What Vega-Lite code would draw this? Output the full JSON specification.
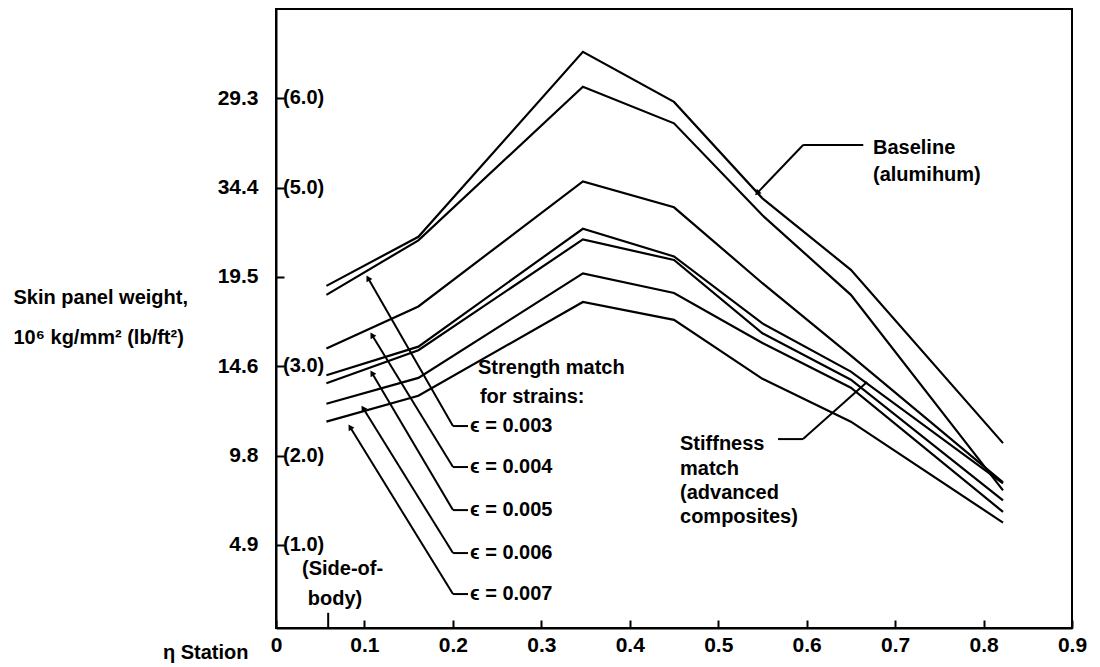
{
  "$schema": "https://vega.github.io/schema/vega-lite/v6.json",
  "width": 796,
  "height": 619,
  "autosize": "none",
  "padding": {"left": 276, "top": 9, "right": 28, "bottom": 39},
  "background": "white",
  "config": {
    "view": {"stroke": "black", "strokeWidth": 2},
    "font": "Liberation Sans",
    "text": {"font": "Liberation Sans", "fontSize": 20, "fontWeight": "bold", "color": "black"},
    "axis": {
      "grid": false,
      "domainColor": "black",
      "domainWidth": 2,
      "tickColor": "black",
      "tickWidth": 2,
      "labelColor": "black",
      "titleColor": "black",
      "labelFont": "Liberation Sans",
      "titleFont": "Liberation Sans",
      "labelFontSize": 21,
      "labelFontWeight": "bold",
      "titleFontSize": 20,
      "titleFontWeight": "bold"
    }
  },
  "datasets": {
    "curves": [
      {"s": "Baseline (aluminum)", "x": 0.057, "y": 3.90}, {"s": "Baseline (aluminum)", "x": 0.161, "y": 4.45}, {"s": "Baseline (aluminum)", "x": 0.347, "y": 6.52}, {"s": "Baseline (aluminum)", "x": 0.45, "y": 5.96}, {"s": "Baseline (aluminum)", "x": 0.55, "y": 4.88}, {"s": "Baseline (aluminum)", "x": 0.65, "y": 4.08}, {"s": "Baseline (aluminum)", "x": 0.822, "y": 2.14},
      {"s": "ε = 0.003", "x": 0.057, "y": 3.80}, {"s": "ε = 0.003", "x": 0.161, "y": 4.41}, {"s": "ε = 0.003", "x": 0.347, "y": 6.13}, {"s": "ε = 0.003", "x": 0.45, "y": 5.72}, {"s": "ε = 0.003", "x": 0.55, "y": 4.69}, {"s": "ε = 0.003", "x": 0.65, "y": 3.80}, {"s": "ε = 0.003", "x": 0.822, "y": 1.61},
      {"s": "ε = 0.004", "x": 0.057, "y": 3.20}, {"s": "ε = 0.004", "x": 0.161, "y": 3.67}, {"s": "ε = 0.004", "x": 0.347, "y": 5.07}, {"s": "ε = 0.004", "x": 0.45, "y": 4.78}, {"s": "ε = 0.004", "x": 0.55, "y": 3.93}, {"s": "ε = 0.004", "x": 0.65, "y": 3.12}, {"s": "ε = 0.004", "x": 0.822, "y": 1.70},
      {"s": "Stiffness match", "x": 0.057, "y": 2.90}, {"s": "Stiffness match", "x": 0.161, "y": 3.22}, {"s": "Stiffness match", "x": 0.347, "y": 4.54}, {"s": "Stiffness match", "x": 0.45, "y": 4.23}, {"s": "Stiffness match", "x": 0.55, "y": 3.48}, {"s": "Stiffness match", "x": 0.65, "y": 2.94}, {"s": "Stiffness match", "x": 0.822, "y": 1.69},
      {"s": "ε = 0.005", "x": 0.057, "y": 2.81}, {"s": "ε = 0.005", "x": 0.161, "y": 3.18}, {"s": "ε = 0.005", "x": 0.347, "y": 4.42}, {"s": "ε = 0.005", "x": 0.45, "y": 4.19}, {"s": "ε = 0.005", "x": 0.55, "y": 3.37}, {"s": "ε = 0.005", "x": 0.65, "y": 2.85}, {"s": "ε = 0.005", "x": 0.822, "y": 1.50},
      {"s": "ε = 0.006", "x": 0.057, "y": 2.58}, {"s": "ε = 0.006", "x": 0.161, "y": 2.87}, {"s": "ε = 0.006", "x": 0.347, "y": 4.04}, {"s": "ε = 0.006", "x": 0.45, "y": 3.82}, {"s": "ε = 0.006", "x": 0.55, "y": 3.26}, {"s": "ε = 0.006", "x": 0.65, "y": 2.76}, {"s": "ε = 0.006", "x": 0.822, "y": 1.37},
      {"s": "ε = 0.007", "x": 0.057, "y": 2.38}, {"s": "ε = 0.007", "x": 0.161, "y": 2.67}, {"s": "ε = 0.007", "x": 0.347, "y": 3.72}, {"s": "ε = 0.007", "x": 0.45, "y": 3.52}, {"s": "ε = 0.007", "x": 0.55, "y": 2.86}, {"s": "ε = 0.007", "x": 0.65, "y": 2.38}, {"s": "ε = 0.007", "x": 0.822, "y": 1.25}
    ],
    "leaders": [
      {"x": 0.664, "y": 5.477, "x2": 0.596, "y2": 5.477},
      {"x": 0.596, "y": 5.477, "x2": 0.544, "y2": 4.939},
      {"x": 0.2171, "y": 2.331, "x2": 0.2001, "y2": 2.331},
      {"x": 0.2001, "y": 2.331, "x2": 0.104, "y2": 3.988},
      {"x": 0.2171, "y": 1.872, "x2": 0.2001, "y2": 1.872},
      {"x": 0.2001, "y": 1.872, "x2": 0.1085, "y2": 3.35},
      {"x": 0.2171, "y": 1.39, "x2": 0.2001, "y2": 1.39},
      {"x": 0.2001, "y": 1.39, "x2": 0.1085, "y2": 2.924},
      {"x": 0.2171, "y": 0.909, "x2": 0.2001, "y2": 0.909},
      {"x": 0.2001, "y": 0.909, "x2": 0.0984, "y2": 2.532},
      {"x": 0.2171, "y": 0.45, "x2": 0.2001, "y2": 0.45},
      {"x": 0.2001, "y": 0.45, "x2": 0.0837, "y2": 2.32},
      {"x": 0.5676, "y": 2.185, "x2": 0.5959, "y2": 2.185},
      {"x": 0.5959, "y": 2.185, "x2": 0.6683, "y2": 2.824},
      {"x": 0.059, "y": 0.07, "x2": 0.059, "y2": 0.24}
    ],
    "arrows": [
      {"x": 0.544, "y": 4.939, "dir": 224},
      {"x": 0.104, "y": 3.988, "dir": 330},
      {"x": 0.1085, "y": 3.35, "dir": 328.5},
      {"x": 0.1085, "y": 2.924, "dir": 329},
      {"x": 0.0984, "y": 2.532, "dir": 328},
      {"x": 0.0837, "y": 2.32, "dir": 328}
    ],
    "labels": [
      {"x": 0.2194, "y": 2.331, "t": "ϵ = 0.003"},
      {"x": 0.2194, "y": 1.872, "t": "ϵ = 0.004"},
      {"x": 0.2194, "y": 1.39, "t": "ϵ = 0.005"},
      {"x": 0.2194, "y": 0.909, "t": "ϵ = 0.006"},
      {"x": 0.2194, "y": 0.45, "t": "ϵ = 0.007"},
      {"x": 0.2284, "y": 2.98, "t": "Strength match"},
      {"x": 0.2306, "y": 2.656, "t": "for strains:"},
      {"x": 0.4568, "y": 2.129, "t": "Stiffness"},
      {"x": 0.4568, "y": 1.85, "t": "match"},
      {"x": 0.4568, "y": 1.581, "t": "(advanced"},
      {"x": 0.4568, "y": 1.312, "t": "composites)"},
      {"x": 0.675, "y": 5.443, "t": "Baseline"},
      {"x": 0.675, "y": 5.141, "t": "(alumihum)"},
      {"x": 0.0294, "y": 0.73, "t": "(Side-of-"},
      {"x": 0.036, "y": 0.395, "t": "body)"},
      {"x": 0.008, "y": 6, "t": "(6.0)"},
      {"x": 0.008, "y": 5, "t": "(5.0)"},
      {"x": 0.008, "y": 3, "t": "(3.0)"},
      {"x": 0.008, "y": 2, "t": "(2.0)"},
      {"x": 0.008, "y": 1, "t": "(1.0)"}
    ]
  },
  "encoding": {
    "x": {
      "field": "x",
      "type": "quantitative",
      "scale": {"domain": [0, 0.9], "nice": false, "zero": false},
      "axis": {
        "values": [0, 0.1, 0.2, 0.3, 0.4, 0.5, 0.6, 0.7, 0.8, 0.9],
        "labelExpr": "datum.value == 0 ? '0' : format(datum.value, '.1f')",
        "tickSize": -8,
        "labelPadding": 14,
        "labelFlush": false,
        "labelOverlap": false,
        "title": "η Station",
        "titleX": -28,
        "titleY": 30,
        "titleAlign": "right",
        "titleBaseline": "alphabetic",
        "titleAnchor": null
      }
    },
    "y": {
      "field": "y",
      "type": "quantitative",
      "scale": {"domain": [0.07, 7], "nice": false, "zero": false},
      "axis": {
        "values": [1, 2, 3, 4, 5, 6],
        "labelExpr": "datum.value == 6 ? '29.3' : datum.value == 5 ? '34.4' : datum.value == 4 ? '19.5' : datum.value == 3 ? '14.6' : datum.value == 2 ? '9.8' : '4.9'",
        "tickSize": -8,
        "labelPadding": 26,
        "labelOverlap": false,
        "title": ["Skin panel weight,", "10⁶ kg/mm² (lb/ft²)"],
        "titleAngle": 0,
        "titleAlign": "left",
        "titleBaseline": "alphabetic",
        "titleX": -263,
        "titleY": 294,
        "titleLineHeight": 40,
        "titleAnchor": null
      }
    }
  },
  "layer": [
    {
      "data": {"name": "curves"},
      "mark": {"type": "line", "color": "black"},
      "encoding": {
        "detail": {"field": "s", "type": "nominal"},
        "strokeWidth": {
          "field": "s",
          "type": "nominal",
          "scale": {"domain": ["Baseline (aluminum)", "ε = 0.003", "ε = 0.004", "Stiffness match", "ε = 0.005", "ε = 0.006", "ε = 0.007"], "range": [2.2, 2.2, 2.2, 3.2, 2.2, 2.2, 2.2]},
          "legend": null
        }
      }
    },
    {
      "data": {"name": "leaders"},
      "mark": {"type": "rule", "color": "black", "strokeWidth": 2},
      "encoding": {
        "x2": {"field": "x2"},
        "y2": {"field": "y2"}
      }
    },
    {
      "data": {"name": "arrows"},
      "mark": {"type": "point", "shape": "triangle-up", "filled": true, "color": "black", "size": 45, "opacity": 1},
      "encoding": {
        "angle": {"field": "dir", "type": "quantitative", "scale": null}
      }
    },
    {
      "data": {"name": "labels"},
      "mark": {"type": "text", "align": "left", "baseline": "middle"},
      "encoding": {
        "text": {"field": "t", "type": "nominal"}
      }
    }
  ]
}
